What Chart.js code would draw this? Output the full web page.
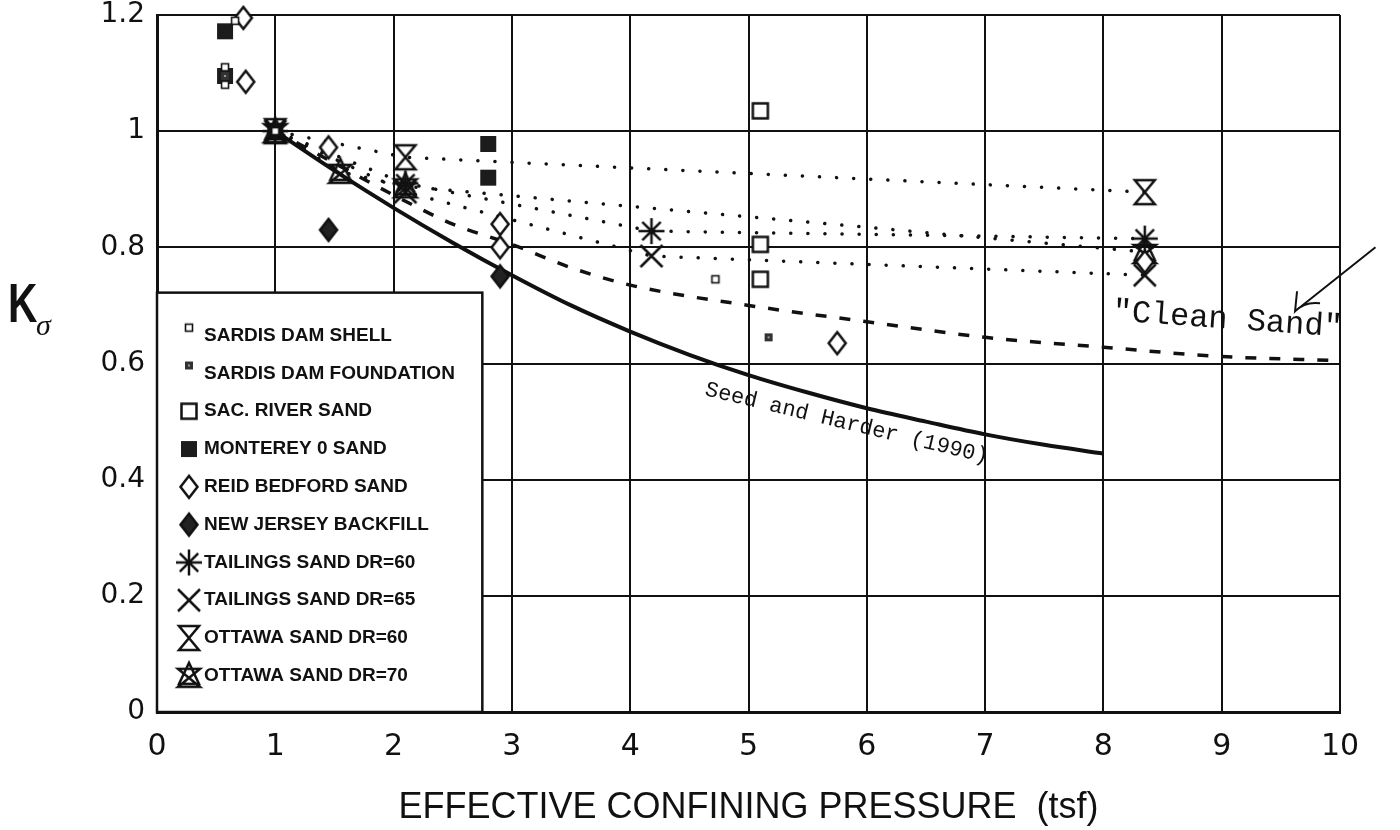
<!DOCTYPE html>
<html>
<head>
<meta charset="utf-8">
<script src="https://cdn.jsdelivr.net/npm/chart.js@4.4.1/dist/chart.umd.min.js"></script>
<style>
  html, body { margin: 0; padding: 0; background: #fff; }
  #wrap { width: 1400px; height: 830px; }
</style>
</head>
<body>
<div id="wrap"><canvas id="chart" width="1400" height="830"></canvas></div>
<script>
// --- values (x = tsf, y = K sigma) ---
const xTickLabels = ["0", "1", "2", "3", "4", "5", "6", "7", "8", "9", "10"];
const yTickLabels = ["0", "0.2", "0.4", "0.6", "0.8", "1", "1.2"];

const legendLabels = [
    "SARDIS DAM SHELL", "SARDIS DAM FOUNDATION", "SAC. RIVER SAND", "MONTEREY 0 SAND",
    "REID BEDFORD SAND", "NEW JERSEY BACKFILL", "TAILINGS SAND DR=60", "TAILINGS SAND DR=65",
    "OTTAWA SAND DR=60", "OTTAWA SAND DR=70"
];

const sardisShellX = [0.575, 0.575, 0.66, 1.0, 4.72];
const sardisShellY = [1.11, 1.08, 1.19, 1.0, 0.745];
const sardisFoundX = [0.575, 5.17];
const sardisFoundY = [1.095, 0.645];
const sacRiverX = [5.1, 5.1, 5.1];
const sacRiverY = [1.035, 0.805, 0.745];
const montereyX = [0.575, 0.575, 1.0, 2.8, 2.8];
const montereyY = [1.172, 1.095, 1.0, 0.978, 0.92];
const reidX = [0.73, 0.75, 1.45, 2.9, 2.9, 5.75, 8.35];
const reidY = [1.195, 1.085, 0.972, 0.84, 0.80, 0.635, 0.775];
const njX = [1.45, 2.9];
const njY = [0.83, 0.75];
const tail60X = [1.0, 2.1, 4.18, 8.35];
const tail60Y = [1.0, 0.91, 0.828, 0.815];
const tail65X = [1.0, 2.1, 4.18, 8.35];
const tail65Y = [1.0, 0.895, 0.785, 0.752];
const ott60X = [1.0, 2.1, 8.35];
const ott60Y = [1.0, 0.955, 0.895];
const ott70X = [1.0, 1.55, 2.1, 8.35];
const ott70Y = [1.0, 0.93, 0.905, 0.792];

// Seed and Harder (1990) curve
const seedX = [1, 1.5, 2, 2.5, 3, 3.5, 4, 4.5, 5, 5.5, 6, 6.5, 7, 7.5, 8];
const seedY = [1.0, 0.932, 0.868, 0.808, 0.752, 0.70, 0.655, 0.615, 0.58, 0.55, 0.523, 0.50, 0.478, 0.46, 0.445];
// "Clean Sand" dashed curve
const cleanX = [1, 1.5, 2, 2.5, 3, 3.5, 4, 5, 6, 7, 8, 9, 10];
const cleanY = [1.0, 0.945, 0.89, 0.84, 0.805, 0.765, 0.735, 0.70, 0.672, 0.645, 0.628, 0.612, 0.605];

const INK = "#111";

function pts(xs, ys) {
    return xs.map((x, i) => ({ x: x, y: ys[i] }));
}

// small canvases used as point styles (and in the legend)
function makeMarker(kind) {
    const s = 32;
    const c = document.createElement("canvas");
    c.width = s; c.height = s;
    const g = c.getContext("2d");
    g.translate(s / 2, s / 2);
    g.strokeStyle = INK;
    g.fillStyle = INK;
    g.lineWidth = 2.5;
    switch (kind) {
        case "tinySquare":
            g.lineWidth = 1.6;
            g.fillStyle = "#fff";
            g.fillRect(-3.5, -3.5, 7, 7);
            g.strokeRect(-3.5, -3.5, 7, 7);
            break;
        case "tinyFilled":
            g.fillStyle = "#333";
            g.fillRect(-4, -4, 8, 8);
            g.fillStyle = "#999";
            g.fillRect(-1, -1, 2, 2);
            break;
        case "openSquare":
            g.fillStyle = "#fff";
            g.fillRect(-7.5, -7.5, 15, 15);
            g.strokeRect(-7.5, -7.5, 15, 15);
            break;
        case "filledSquare":
            g.fillStyle = "#1c1c1c";
            g.fillRect(-8, -8, 16, 16);
            break;
        case "openDiamond":
        case "filledDiamond":
            g.beginPath();
            g.moveTo(0, -11); g.lineTo(8.5, 0); g.lineTo(0, 11); g.lineTo(-8.5, 0);
            g.closePath();
            g.fillStyle = kind === "openDiamond" ? "#fff" : "#222";
            g.fill();
            g.stroke();
            break;
        case "asterisk":
            for (let a = 0; a < 4; a++) {
                const t = a * Math.PI / 4;
                g.beginPath();
                g.moveTo(-13 * Math.cos(t), -13 * Math.sin(t));
                g.lineTo(13 * Math.cos(t), 13 * Math.sin(t));
                g.stroke();
            }
            break;
        case "cross":
            g.beginPath();
            g.moveTo(-11, -11); g.lineTo(11, 11);
            g.moveTo(11, -11); g.lineTo(-11, 11);
            g.stroke();
            break;
        case "hourglass":
            g.beginPath();
            g.moveTo(-10, -12); g.lineTo(10, -12); g.lineTo(-10, 12); g.lineTo(10, 12);
            g.closePath();
            g.stroke();
            break;
        case "ottawa70":
            g.beginPath();
            g.moveTo(-11, -7); g.lineTo(11, -7); g.lineTo(-11, 11); g.lineTo(11, 11);
            g.closePath();
            g.moveTo(0, -13); g.lineTo(-10, 8); g.lineTo(10, 8);
            g.closePath();
            g.stroke();
            break;
    }
    return c;
}

const markers = {
    shell: makeMarker("tinySquare"),
    found: makeMarker("tinyFilled"),
    sac: makeMarker("openSquare"),
    monterey: makeMarker("filledSquare"),
    reid: makeMarker("openDiamond"),
    nj: makeMarker("filledDiamond"),
    t60: makeMarker("asterisk"),
    t65: makeMarker("cross"),
    o60: makeMarker("hourglass"),
    o70: makeMarker("ottawa70")
};
const legendMarkers = [markers.shell, markers.found, markers.sac, markers.monterey, markers.reid,
    markers.nj, markers.t60, markers.t65, markers.o60, markers.o70];

const dotted = { borderColor: INK, borderWidth: 3.5, borderDash: [0.1, 17], borderCapStyle: "round" };

function markerSet(label, xs, ys, img, line) {
    const ds = {
        label: label,
        data: pts(xs, ys),
        pointStyle: img,
        pointRadius: 9,
        showLine: !!line,
        clip: false
    };
    if (line) Object.assign(ds, dotted);
    return ds;
}

// legend box, annotations and the K-sigma axis label
const decorPlugin = {
    id: "decor",
    afterDatasetsDraw(chart) {
        const { ctx, chartArea, scales: { x, y } } = chart;
        ctx.save();

        // legend inside the plot
        const left = chartArea.left;
        const right = x.getPixelForValue(2.75);
        const top = y.getPixelForValue(0.722);
        const bottom = chartArea.bottom;
        ctx.fillStyle = "#fff";
        ctx.fillRect(left, top, right - left, bottom - top);
        ctx.strokeStyle = INK;
        ctx.lineWidth = 2.5;
        ctx.strokeRect(left, top, right - left, bottom - top);

        ctx.font = 'bold 19px "Liberation Sans"';
        ctx.textBaseline = "middle";
        ctx.fillStyle = INK;
        legendLabels.forEach((txt, i) => {
            const rowY = top + 43 + i * 37.8;
            const img = legendMarkers[i];
            const my = i < 2 ? rowY - 8 : rowY;
            ctx.drawImage(img, left + 32 - img.width / 2, my - img.height / 2);
            ctx.fillText(txt, left + 47, rowY);
        });

        // "Clean Sand"
        ctx.save();
        ctx.translate(x.getPixelForValue(9.05), y.getPixelForValue(0.675));
        ctx.rotate(4 * Math.PI / 180);
        ctx.font = '32px "Liberation Mono"';
        ctx.textAlign = "center";
        ctx.fillText('"Clean Sand"', 0, 0);
        ctx.restore();

        // Seed and Harder (1990)
        ctx.save();
        ctx.translate(x.getPixelForValue(5.83), y.getPixelForValue(0.497));
        ctx.rotate(13.5 * Math.PI / 180);
        ctx.font = '22px "Liberation Mono"';
        ctx.textAlign = "center";
        ctx.fillText("Seed and Harder (1990)", 0, 0);
        ctx.restore();

        // arrow pointing at the clean sand curve
        const tx = x.getPixelForValue(10.3), ty = y.getPixelForValue(0.8);
        const hx = x.getPixelForValue(9.62), hy = y.getPixelForValue(0.69);
        ctx.lineWidth = 2;
        ctx.beginPath();
        ctx.moveTo(tx, ty);
        ctx.lineTo(hx, hy);
        ctx.moveTo(hx + 2, hy - 20);
        ctx.lineTo(hx, hy);
        ctx.quadraticCurveTo(hx + 10, hy - 10, hx + 25, hy - 8);
        ctx.stroke();

        ctx.restore();
    },
    afterDraw(chart) {
        const { ctx } = chart;
        ctx.save();
        ctx.fillStyle = INK;
        ctx.textBaseline = "alphabetic";
        ctx.save();
        ctx.translate(8, 322);
        ctx.scale(0.74, 1);
        ctx.font = 'bold 55px "Liberation Sans"';
        ctx.fillText("K", 0, 0);
        ctx.restore();
        ctx.font = 'italic 30px "Liberation Serif"';
        ctx.fillText("\u03C3", 36, 335);
        ctx.restore();
    }
};

new Chart(document.getElementById("chart"), {
    type: "scatter",
    data: {
        datasets: [
            markerSet(legendLabels[0], sardisShellX, sardisShellY, markers.shell, false),
            markerSet(legendLabels[1], sardisFoundX, sardisFoundY, markers.found, false),
            markerSet(legendLabels[2], sacRiverX, sacRiverY, markers.sac, false),
            markerSet(legendLabels[4], reidX, reidY, markers.reid, false),
            markerSet(legendLabels[5], njX, njY, markers.nj, false),
            markerSet(legendLabels[6], tail60X, tail60Y, markers.t60, true),
            markerSet(legendLabels[7], tail65X, tail65Y, markers.t65, true),
            markerSet(legendLabels[8], ott60X, ott60Y, markers.o60, true),
            markerSet(legendLabels[9], ott70X, ott70Y, markers.o70, true),
            markerSet(legendLabels[3], montereyX, montereyY, markers.monterey, false),
            {
                label: "Clean Sand",
                data: pts(cleanX, cleanY),
                showLine: true,
                pointRadius: 0,
                borderColor: INK,
                borderWidth: 3.5,
                borderDash: [11, 13],
                cubicInterpolationMode: "monotone"
            },
            {
                label: "Seed and Harder (1990)",
                data: pts(seedX, seedY),
                showLine: true,
                pointRadius: 0,
                borderColor: INK,
                borderWidth: 4,
                cubicInterpolationMode: "monotone"
            }
        ]
    },
    options: {
        responsive: false,
        animation: false,
        events: [],
        layout: { autoPadding: false, padding: { top: 15, right: 60, left: 0, bottom: 0 } },
        plugins: {
            legend: { display: false },
            tooltip: { enabled: false }
        },
        scales: {
            x: {
                type: "linear",
                min: 0,
                max: 10,
                afterFit(s) {
                    s.height = 118;
                    s.paddingLeft = 0;
                    s.paddingRight = 0;
                },
                ticks: {
                    stepSize: 1,
                    padding: 20,
                    color: INK,
                    font: { family: "DejaVu Sans", size: 30, lineHeight: 1 },
                    callback: (v) => xTickLabels[Math.round(v)]
                },
                grid: { color: INK, lineWidth: 2, drawTicks: false },
                border: { color: INK, width: 3 },
                title: {
                    display: true,
                    text: "EFFECTIVE CONFINING PRESSURE  (tsf)",
                    color: INK,
                    font: { family: "Liberation Sans", size: 36 },
                    padding: { top: 0, bottom: 0 }
                }
            },
            y: {
                type: "linear",
                min: 0,
                max: 1.2,
                afterFit(s) {
                    s.width = 157;
                    s.paddingTop = 0;
                    s.paddingBottom = 0;
                },
                ticks: {
                    stepSize: 0.2,
                    padding: 12,
                    color: INK,
                    font: { family: "DejaVu Sans", size: 28, lineHeight: 1 },
                    callback: (v) => yTickLabels[Math.round(v / 0.2)]
                },
                grid: { color: INK, lineWidth: 2, drawTicks: false },
                border: { color: INK, width: 3 }
            }
        }
    },
    plugins: [decorPlugin]
});
</script>
</body>
</html>
